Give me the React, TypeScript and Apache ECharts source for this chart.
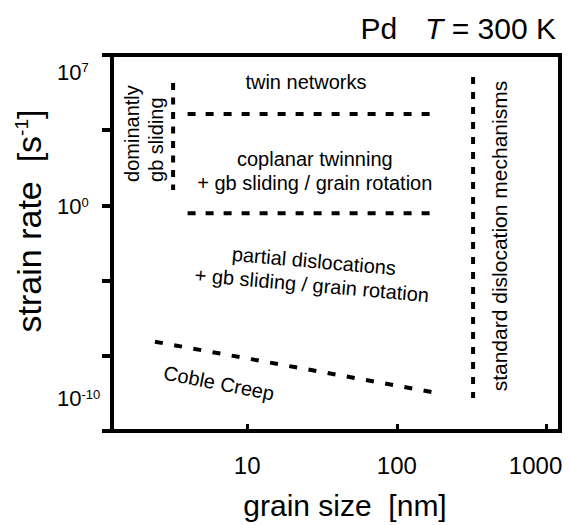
import React, { useEffect, useRef } from 'react';
import * as echarts from 'echarts';

const FONT = '"Liberation Sans", Arial, Helvetica, sans-serif';

// Axis extents: grain size in nm (log axis), strain rate as log10(s^-1)
const grainSizeExtent = [1.25, 1230];
const logRateExtent = [-11.69, 7.89];
const grainSizeLabelled = [10, 100, 1000];
const logRateLabelled = [7, 0, -10];
// the frame carries five evenly spaced tick divisions along the rate axis
const rateTickDivisions = 5;

// Mechanism boundaries as [grain size (nm), log10 strain rate]
const gbSlidingBoundary = [[3.2, 6.43], [3.2, 0.86]];
const twinNetworkBoundary = [[4.0, 4.82], [174, 4.82]];
const coplanarTwinBoundary = [[4.0, -0.35], [174, -0.35]];
const cobleCreepLine = [[2.42, -7.04], [177, -9.68]];
const standardDislocationBoundary = [[323, 6.74], [323, -9.97]];

// Regime labels and their anchors [grain size (nm), log10 strain rate]
const twinNetworksText = 'twin networks';
const twinNetworksAt = [24.7, 6.48];
const coplanarText = 'coplanar twinning\n+ gb sliding / grain rotation';
const coplanarAt = [28.3, 1.85];
const partialText = 'partial dislocations\n+ gb sliding / grain rotation';
const partialAt = [27.5, -3.46];
const cobleText = 'Coble Creep';
const cobleAt = [6.47, -9.19];
const gbSlidingText = 'dominantly\ngb sliding';
const gbSlidingAt = [2.04, 1.28];
const standardText = 'standard dislocation mechanisms';
const standardAt = [487, -1.54];

const isDecade = (v: number) => {
  const e = Math.log10(v);
  return Math.abs(e - Math.round(e)) < 1e-6;
};

const boundary = (pts: number[][], dash: number[], width = 4) => ({
  type: 'line',
  data: pts,
  yAxisIndex: 0,
  symbol: 'none',
  silent: true,
  z: 3,
  lineStyle: { color: '#000', width, type: dash, cap: 'butt' },
});

const regionLabel = (text: string, at: number[], extra: any = {}) => ({
  type: 'scatter',
  data: [at],
  yAxisIndex: 0,
  symbolSize: 0,
  silent: true,
  z: 4,
  itemStyle: { opacity: 1, color: '#000' },
  label: {
    show: true,
    position: 'inside',
    formatter: text,
    fontSize: 20,
    lineHeight: 24,
    color: '#000',
    opacity: 1,
    textBorderWidth: 0,
    textBorderColor: 'transparent',
    fontFamily: FONT,
    align: 'center',
    ...extra,
  },
});

export default function App() {
  const ref = useRef<HTMLDivElement>(null);

  useEffect(() => {
    const chart = echarts.init(ref.current!, null, { renderer: 'svg' });
    chart.setOption({
      animation: false,
      backgroundColor: '#fff',
      textStyle: { fontFamily: FONT, color: '#000' },
      title: {
        text: '{n|Pd}{gap|}{i|T}{n| = 300 K}',
        right: 9,
        top: 8,
        textStyle: {
          rich: {
            n: { fontSize: 30, fontFamily: FONT, color: '#000', fontWeight: 'normal' },
            i: { fontSize: 30, fontFamily: FONT, color: '#000', fontStyle: 'italic', fontWeight: 'normal' },
            gap: { width: 28 },
          },
        },
      },
      grid: {
        left: 112,
        right: 10,
        top: 55,
        bottom: 94,
        containLabel: false,
        outerBoundsMode: 'none',
        show: true,
        borderColor: '#000',
        borderWidth: 4,
        backgroundColor: 'transparent',
      },
      xAxis: {
        type: 'log',
        logBase: 10,
        min: grainSizeExtent[0],
        max: grainSizeExtent[1],
        axisLine: { onZero: false, lineStyle: { color: '#000', width: 4 } },
        axisTick: { inside: true, length: 7, lineStyle: { color: '#000', width: 3 } },
        minorTick: { show: false },
        splitLine: { show: false },
        axisLabel: {
          margin: 22,
          fontSize: 24,
          color: '#000',
          fontFamily: FONT,
          showMinLabel: false,
          showMaxLabel: false,
          formatter: (v: number) => {
            const hit = grainSizeLabelled.find((g) => Math.abs(g - v) / g < 1e-6);
            if (hit === undefined || !isDecade(v)) return '';
            return hit === grainSizeLabelled[grainSizeLabelled.length - 1]
              ? `{last|${hit}}`
              : `${hit}`;
          },
          rich: { last: { fontSize: 24, fontFamily: FONT, color: '#000', padding: [0, 22, 0, 0] } },
        },
        name: 'grain size  [nm]',
        nameLocation: 'middle',
        nameGap: 59,
        nameTextStyle: { fontSize: 30, color: '#000', fontFamily: FONT, padding: [0, 0, 0, 18] },
      },
      yAxis: [
        {
          // strain-rate scale: carries the decade labels and the data
          type: 'value',
          position: 'left',
          min: logRateExtent[0],
          max: logRateExtent[1],
          splitNumber: 20,
          axisLine: { show: false, onZero: false },
          axisTick: { show: false },
          splitLine: { show: false },
          axisLabel: {
            margin: 55,
            align: 'left',
            showMinLabel: false,
            showMaxLabel: false,
            formatter: (v: number) => {
              const e = Math.round(v);
              return Math.abs(v - e) < 1e-6 && logRateLabelled.includes(e)
                ? `{b|10}{s|${e}}`
                : '';
            },
            rich: {
              b: { fontSize: 22, fontFamily: FONT, color: '#000' },
              s: { fontSize: 13, fontFamily: FONT, color: '#000', verticalAlign: 'top' },
            },
          },
          name: 'strain rate  [s{sup|-1}]',
          nameLocation: 'middle',
          nameGap: 66,
          nameTextStyle: {
            fontSize: 34,
            color: '#000',
            fontFamily: FONT,
            padding: [0, 0, 0, 44],
            rich: { sup: { fontSize: 19, fontFamily: FONT, color: '#000', verticalAlign: 'top' } },
          },
        },
        {
          // frame axis: line and evenly spaced outward ticks
          type: 'value',
          position: 'left',
          min: 0,
          max: rateTickDivisions,
          interval: 1,
          axisLine: { show: true, onZero: false, lineStyle: { color: '#000', width: 4 } },
          axisTick: { show: true, inside: false, length: 10, lineStyle: { color: '#000', width: 4 } },
          axisLabel: { show: false },
          splitLine: { show: false },
        },
      ],
      series: [
        boundary(gbSlidingBoundary, [7, 7.5]),
        boundary(twinNetworkBoundary, [8, 10]),
        boundary(coplanarTwinBoundary, [8, 10]),
        boundary(cobleCreepLine, [8, 11.5]),
        boundary(standardDislocationBoundary, [7, 8]),
        regionLabel(twinNetworksText, twinNetworksAt),
        regionLabel(coplanarText, coplanarAt),
        regionLabel(partialText, partialAt, { rotate: -5 }),
        regionLabel(cobleText, cobleAt, { rotate: -11 }),
        regionLabel(gbSlidingText, gbSlidingAt, { rotate: 90, align: 'left' }),
        regionLabel(standardText, standardAt, { rotate: 90, fontSize: 21 }),
      ],
    });
    return () => chart.dispose();
  }, []);

  return (
    <div
      ref={ref}
      style={{ position: 'fixed', left: 0, top: 0, width: 570, height: 525 }}
    />
  );
}
